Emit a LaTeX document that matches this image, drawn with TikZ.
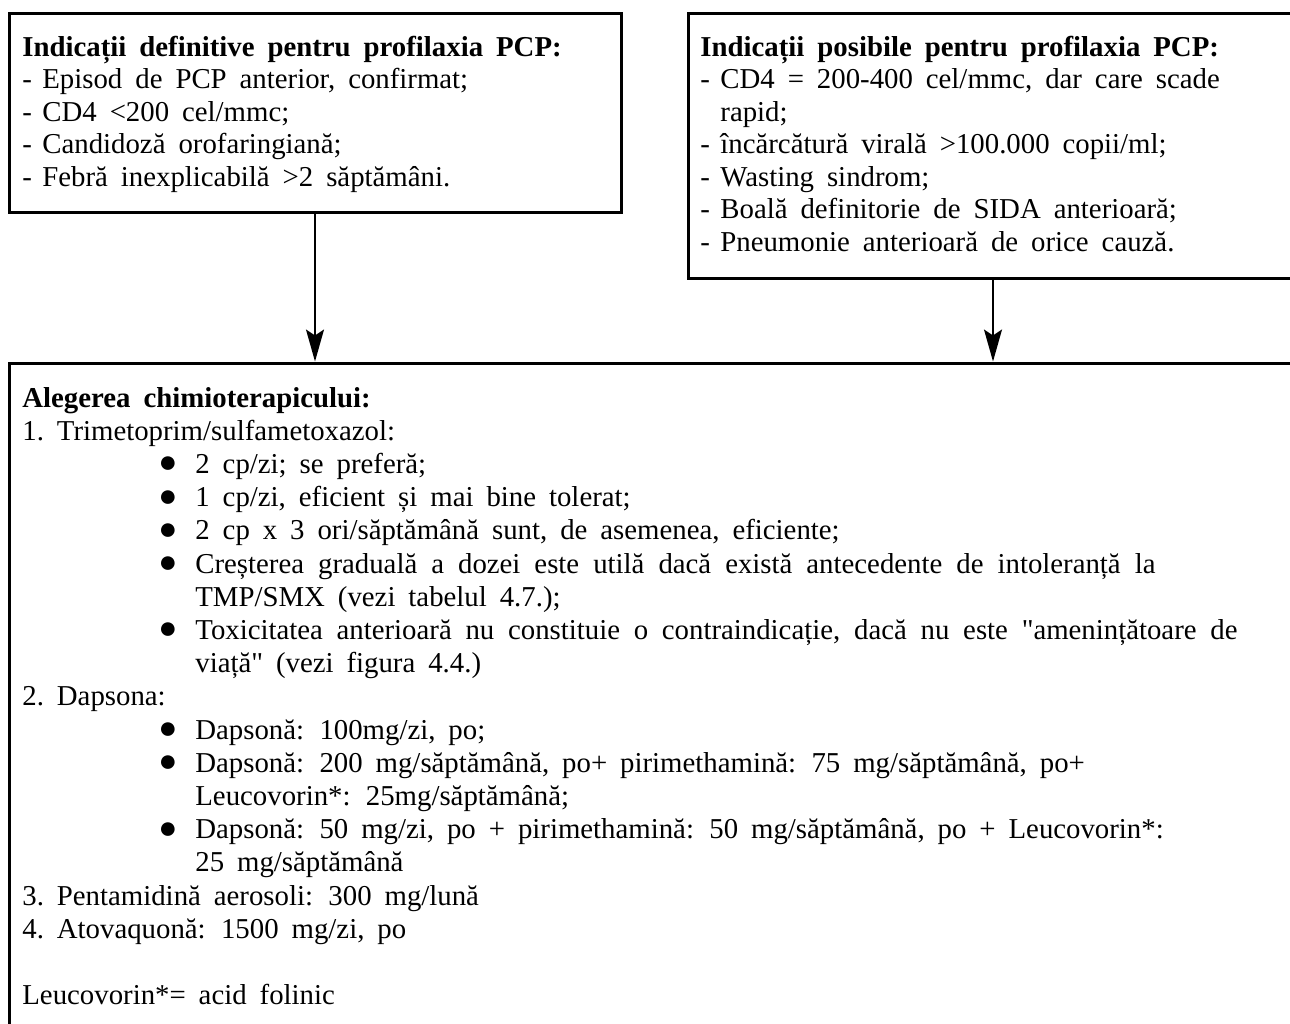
\documentclass[tikz,border=0pt]{standalone}
\usepackage{fontspec}
\setmainfont{Liberation Serif}
% same face without TeX ligature mapping, for the straight double quote
\newfontfamily\qtfont{Liberation Serif}
\usetikzlibrary{arrows.meta,fit}
% hanging dash, bullet and continuation indents used in the lists
\newcommand{\lndash}{\makebox[10pt][l]{-}}
\newcommand{\bulitem}{\hspace*{68pt}\makebox[18.5pt][l]{\raisebox{0.3pt}{\scalebox{1.1}{●}}}}
\newcommand{\contind}{\hspace*{86.5pt}}
\newcommand{\widesp}{\spaceskip=0.45em plus 0.3em minus 0.1em\relax}
\newcommand{\sq}{{\qtfont"}}
\begin{document}
\begin{tikzpicture}[x=0.5pt,y=-0.5pt,
  box/.style={draw, line width=1.5pt, inner sep=0pt},
  txt/.style={anchor=base west, inner sep=0pt,
    font=\fontsize{14.4pt}{16.5pt}\selectfont},
  flow/.style={draw, line width=0.9pt, -{Stealth[length=16pt,width=9pt,inset=3pt]}}]
\useasboundingbox (0,0) rectangle (1290,1023);
\clip (0,0) rectangle (1290,1023);

% frames
\node[box, fit={(9,13) (621,212)}] (b1) {};
\node[box, fit={(688,13) (1298,278)}] (b2) {};
\node[box, fit={(9,363) (1400,1100)}] (b3) {};

% connectors
\draw[flow] (b1.south) -- (b1.south |- b3.north);
\draw[flow] (b2.south) -- (b2.south |- b3.north);

% texts
\node[txt] (t1) at (22,56) {\parbox[t]{300pt}{\widesp\baselineskip=16.25pt
\textbf{Indicații definitive pentru profilaxia PCP:}\\
\lndash Episod de PCP anterior, confirmat;\\
\lndash CD4 <200 cel/mmc;\\
\lndash Candidoză orofaringiană;\\
\lndash Febră inexplicabilă >2 săptămâni.}};

\node[txt] (t2) at (700,56) {\parbox[t]{300pt}{\widesp\baselineskip=16.25pt
\textbf{Indicații posibile pentru profilaxia PCP:}\\
\lndash CD4 = 200-400 cel/mmc, dar care scade\\
\hspace*{10pt}rapid;\\
\lndash încărcătură virală >100.000 copii/ml;\\
\lndash Wasting sindrom;\\
\lndash Boală definitorie de SIDA anterioară;\\
\lndash Pneumonie anterioară de orice cauză.}};

\node[txt] (t3) at (22,407) {\parbox[t]{640pt}{\widesp\baselineskip=16.6pt
\textbf{Alegerea chimioterapicului:}\\
1.\ Trimetoprim/sulfametoxazol:\\
\bulitem 2 cp/zi; se preferă;\\
\bulitem 1 cp/zi, eficient și mai bine tolerat;\\
\bulitem 2 cp x 3 ori/săptămână sunt, de asemenea, eficiente;\\
\bulitem \makebox[480pt][s]{Creșterea graduală a dozei este utilă dacă există antecedente de intoleranță la}\\
\contind TMP/SMX (vezi tabelul 4.7.);\\
\bulitem \makebox[521pt][s]{Toxicitatea anterioară nu constituie o contraindicație, dacă nu este \sq amenințătoare de}\\
\contind viață\sq\ (vezi figura 4.4.)\\
2.\ Dapsona:\\
\bulitem Dapsonă: 100mg/zi, po;\\
\bulitem Dapsonă: 200 mg/săptămână, po+ pirimethamină: 75 mg/săptămână, po+\\
\contind Leucovorin*: 25mg/săptămână;\\
\bulitem Dapsonă: 50 mg/zi, po + pirimethamină: 50 mg/săptămână, po + Leucovorin*:\\
\contind 25 mg/săptămână\\
3.\ Pentamidină aerosoli: 300 mg/lună\\
4.\ Atovaquonă: 1500 mg/zi, po\\
\mbox{}\\
Leucovorin*= acid folinic}};
\end{tikzpicture}
\end{document}
